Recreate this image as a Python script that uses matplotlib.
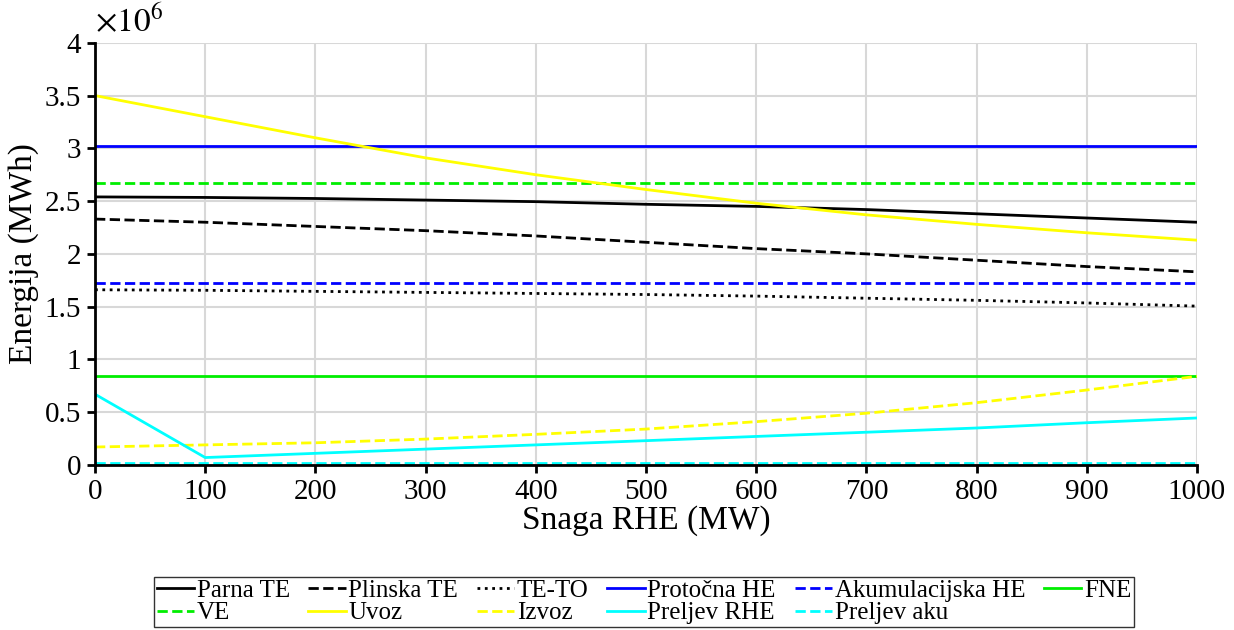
import numpy as np
import matplotlib
matplotlib.use('Agg')
import matplotlib.pyplot as plt

plt.rcParams['font.family'] = ['Liberation Serif', 'DejaVu Serif']
plt.rcParams['mathtext.fontset'] = 'stix'

# snaga RHE (MW)
snaga = [0, 100, 200, 300, 400, 500, 600, 700, 800, 900, 1000]

# energija, x10^6 MWh
parna_te = [2.54, 2.535, 2.525, 2.51, 2.495, 2.47, 2.45, 2.42, 2.38, 2.34, 2.30]
plinska_te = [2.33, 2.30, 2.26, 2.22, 2.17, 2.11, 2.05, 2.00, 1.94, 1.88, 1.83]
te_to = [1.66, 1.655, 1.645, 1.635, 1.625, 1.615, 1.60, 1.58, 1.56, 1.535, 1.505]
protocna_he = [3.02] * 11
akumulacijska_he = [1.72] * 11
fne = [0.84] * 11
ve = [2.67] * 11
uvoz = [3.50, 3.30, 3.10, 2.91, 2.75, 2.61, 2.48, 2.37, 2.28, 2.20, 2.13]
izvoz = [0.17, 0.19, 0.21, 0.245, 0.29, 0.34, 0.41, 0.49, 0.59, 0.71, 0.84]
preljev_rhe = [0.67, 0.07, 0.11, 0.15, 0.19, 0.23, 0.27, 0.31, 0.35, 0.40, 0.445]
preljev_aku = [0.015] * 11

x = np.array(snaga)
s = 1e6

fig = plt.figure(figsize=(12.34, 6.3), dpi=100)
ax = fig.add_axes([0.077, 0.262, 0.893, 0.670])

lw = 2
ax.plot(x, np.array(parna_te) * s, '-', color='black', lw=lw, label='Parna TE')
ax.plot(x, np.array(plinska_te) * s, '--', color='black', lw=lw, label='Plinska TE')
ax.plot(x, np.array(te_to) * s, ':', color='black', lw=lw, label='TE-TO')
ax.plot(x, np.array(protocna_he) * s, '-', color='#0000ff', lw=lw, label='Protočna HE')
ax.plot(x, np.array(akumulacijska_he) * s, '--', color='#0000ff', lw=lw, label='Akumulacijska HE')
ax.plot(x, np.array(fne) * s, '-', color='#00ee00', lw=lw, label='FNE')
ax.plot(x, np.array(ve) * s, '--', color='#00ee00', lw=lw, label='VE')
ax.plot(x, np.array(uvoz) * s, '-', color='#ffff00', lw=lw, label='Uvoz')
ax.plot(x, np.array(izvoz) * s, '--', color='#ffff00', lw=lw, label='Izvoz')
ax.plot(x, np.array(preljev_rhe) * s, '-', color='#00ffff', lw=lw, label='Preljev RHE')
ax.plot(x, np.array(preljev_aku) * s, '--', color='#00ffff', lw=lw, label='Preljev aku')

ax.set_xlim(0, 1000)
ax.set_ylim(0, 4e6)
ax.set_xticks(range(0, 1001, 100))
ax.set_yticks(np.arange(0, 4.01, 0.5) * s)
ax.set_yticklabels(['0', '0.5', '1', '1.5', '2', '2.5', '3', '3.5', '4'])
ax.grid(True, color='#d8d8d8', lw=1.5)
ax.set_axisbelow(True)
for side in ['top', 'right']:
    ax.spines[side].set_visible(False)
for side in ['left', 'bottom']:
    ax.spines[side].set_linewidth(2)
ax.tick_params(labelsize=21, width=2, length=6, direction='out', pad=4)
ax.text(0, 1.01, r'$\times 10^6$', transform=ax.transAxes, fontsize=24, ha='left', va='bottom')

ax.set_xlabel('Snaga RHE (MW)', fontsize=24, labelpad=0)
ax.set_ylabel('Energija (MWh)', fontsize=24, labelpad=4)

# legenda po vrsticah (6 stolpcev)
h, l = ax.get_legend_handles_labels()
red = [0, 6, 1, 7, 2, 8, 3, 9, 4, 10, 5]
leg = ax.legend([h[i] for i in red], [l[i] for i in red], loc='upper center',
                bbox_to_anchor=(0.498, -0.265), ncol=6, fontsize=18,
                frameon=True, fancybox=False, edgecolor='black', handlelength=1.5,
                handletextpad=0.1, columnspacing=0.75, borderpad=0.1, labelspacing=0.0,
                borderaxespad=0)
leg.get_frame().set_linewidth(1)

fig.savefig('out.png', dpi=100)
